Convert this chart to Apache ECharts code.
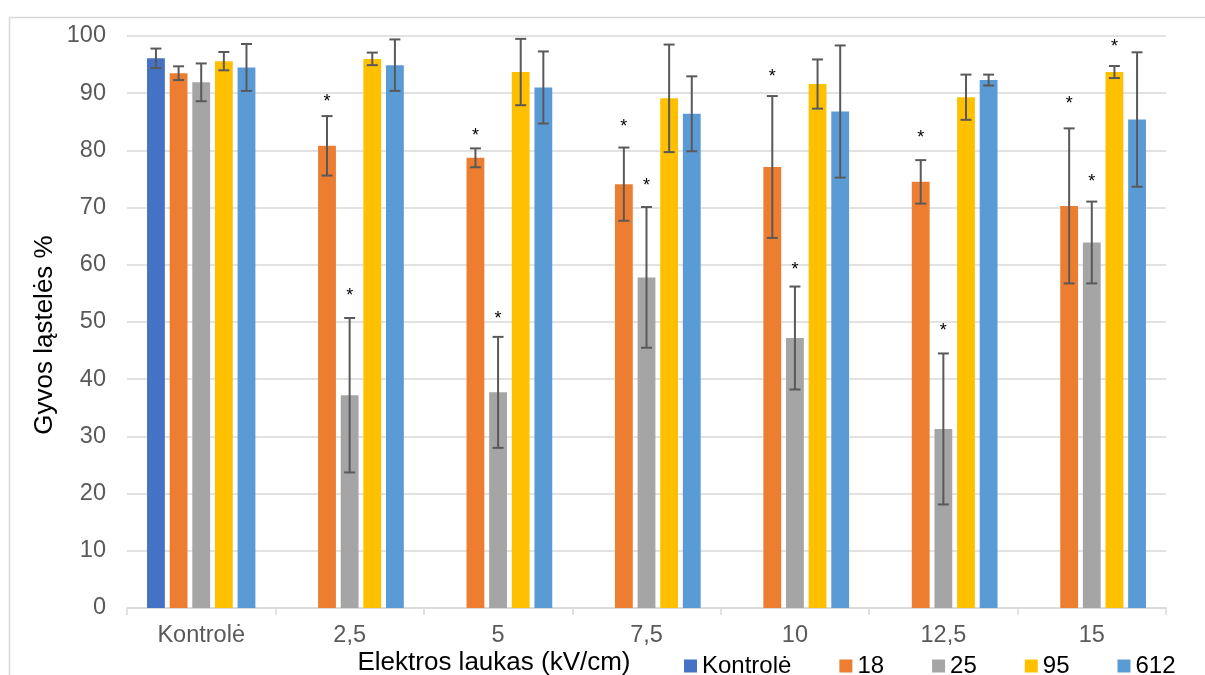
<!DOCTYPE html>
<html>
<head>
<meta charset="utf-8">
<script src="https://cdn.jsdelivr.net/npm/echarts@6/dist/echarts.min.js"></script>
<style>html,body{margin:0;padding:0;background:#fff;}#chart{width:1205px;height:675px;}</style>
</head>
<body>
<div id="chart"></div>
<script>
// ---- data ----
const categories = ['Kontrolė', '2,5', '5', '7,5', '10', '12,5', '15'];
const seriesNames = ['Kontrolė', '18', '25', '95', '612'];
const yTicks = [0, 10, 20, 30, 40, 50, 60, 70, 80, 90, 100];

const valKontrole = [96.1, null, null, null, null, null, null];
const val18  = [93.5, 80.8, 78.7, 74.1, 77.1, 74.5, 70.3];
const val25  = [91.9, 37.2, 37.7, 57.8, 47.2, 31.3, 63.9];
const val95  = [95.6, 96.0, 93.7, 89.1, 91.6, 89.3, 93.7];
const val612 = [94.5, 94.9, 91.0, 86.4, 86.8, 92.3, 85.4];

const errKontrole = [1.7, null, null, null, null, null, null];
const err18  = [1.2, 5.2, 1.65, 6.4, 12.4, 3.8, 13.55];
const err25  = [3.3, 13.5, 9.7, 12.3, 9.0, 13.2, 7.15];
const err95  = [1.6, 1.1, 5.8, 9.4, 4.3, 3.95, 1.05];
const err612 = [4.1, 4.5, 6.3, 6.55, 11.55, 0.95, 11.75];

// significance asterisks: vertical position in value units (null = none)
const starKontrole = [null, null, null, null, null, null, null];
const star18  = [null, 89.1, 83.2, 84.8, 93.6, 82.9, 88.8];
const star25  = [null, 55.3, 51.2, 74.5, 59.7, 49.2, 75.2];
const star95  = [null, null, null, null, null, null, 98.8];
const star612 = [null, null, null, null, null, null, null];

const colors = ['#4472C4', '#ED7D31', '#A5A5A5', '#FFC000', '#5B9BD5'];
const xTitle = 'Elektros laukas (kV/cm)';
const yTitle = 'Gyvos ląstelės %';

// ---- build ----
const values = [valKontrole, val18, val25, val95, val612];
const errs = [errKontrole, err18, err25, err95, err612];
const stars = [starKontrole, star18, star25, star95, star612];
const BAR_GAP = 0.27, CAT_GAP = 0.27, N = seriesNames.length;
const FONT = '"Liberation Sans", Arial, sans-serif';

const chart = echarts.init(document.getElementById('chart'), null, {renderer: 'canvas'});

const series = [];
seriesNames.forEach((name, si) => {
  series.push({
    type: 'bar', name: name, data: values[si],
    barGap: (BAR_GAP * 100) + '%', barCategoryGap: (CAT_GAP * 100) + '%',
    itemStyle: {color: colors[si]},
    z: 2
  });
});
seriesNames.forEach((name, si) => {
  const data = categories.map((c, ci) => [ci, values[si][ci], errs[si][ci], stars[si][ci]]);
  series.push({
    type: 'custom', name: 'err' + si, z: 5, silent: true,
    data: data,
    encode: {x: 0, y: 1},
    renderItem: function (params, api) {
      const ci = api.value(0), v = api.value(1), e = api.value(2), s = api.value(3);
      const children = [];
      const band = api.size([1, 0])[0];
      const usable = band * (1 - CAT_GAP);
      const bw = usable / (N + (N - 1) * BAR_GAP);
      const off = -usable / 2 + si * bw * (1 + BAR_GAP) + bw / 2;
      const cx = api.coord([ci, 0])[0] + off;
      if (v != null && !isNaN(v) && e != null && !isNaN(e)) {
        const yt = api.coord([ci, v + e])[1];
        const yb = api.coord([ci, v - e])[1];
        const st = {stroke: '#595959', lineWidth: 2};
        children.push({type: 'line', shape: {x1: cx, y1: yt, x2: cx, y2: yb}, style: st});
        children.push({type: 'line', shape: {x1: cx - 5.5, y1: yt, x2: cx + 5.5, y2: yt}, style: st});
        children.push({type: 'line', shape: {x1: cx - 5.5, y1: yb, x2: cx + 5.5, y2: yb}, style: st});
      }
      if (s != null && !isNaN(s)) {
        const ys = api.coord([ci, s])[1];
        children.push({type: 'text', x: cx, y: ys + 4,
          style: {text: '*', font: '18px ' + FONT, fill: '#000', align: 'center', verticalAlign: 'middle'}});
      }
      return {type: 'group', children: children};
    }
  });
});

chart.setOption({
  animation: false,
  backgroundColor: '#fff',
  grid: {left: 127, right: 39, top: 36, bottom: 67, containLabel: false},
  legend: {
    data: seriesNames, left: 679, top: 649,
    itemWidth: 13, itemHeight: 13, itemGap: 48,
    icon: 'rect',
    textStyle: {fontSize: 24, color: '#000', fontFamily: FONT}
  },
  xAxis: {
    type: 'category', data: categories,
    axisLine: {lineStyle: {color: '#d9d9d9', width: 1.5}},
    axisTick: {show: true, length: 7, lineStyle: {color: '#d9d9d9', width: 1.5}},
    axisLabel: {color: '#595959', fontSize: 23.5, fontFamily: FONT, margin: 16}
  },
  yAxis: {
    type: 'value', min: yTicks[0], max: yTicks[yTicks.length - 1], interval: 10,
    axisLine: {show: false}, axisTick: {show: false},
    splitLine: {lineStyle: {color: '#d9d9d9', width: 1.5}},
    axisLabel: {color: '#595959', fontSize: 23.5, fontFamily: FONT, margin: 21}
  },
  graphic: [
    {type: 'rect', left: 7, top: 15, z: -10, silent: true,
     shape: {x: 0, y: 0, width: 1400, height: 900},
     style: {fill: 'none', stroke: '#d9d9d9', lineWidth: 1.5}},
    {type: 'text', x: 494, y: 663, silent: true,
     style: {text: xTitle, font: '26px ' + FONT, fill: '#000', align: 'center', verticalAlign: 'middle'}},
    {type: 'text', x: 45, y: 335, rotation: Math.PI / 2, silent: true,
     style: {text: yTitle, font: '26px ' + FONT, fill: '#000', align: 'center', verticalAlign: 'middle'}}
  ],
  series: series
});
</script>
</body>
</html>
